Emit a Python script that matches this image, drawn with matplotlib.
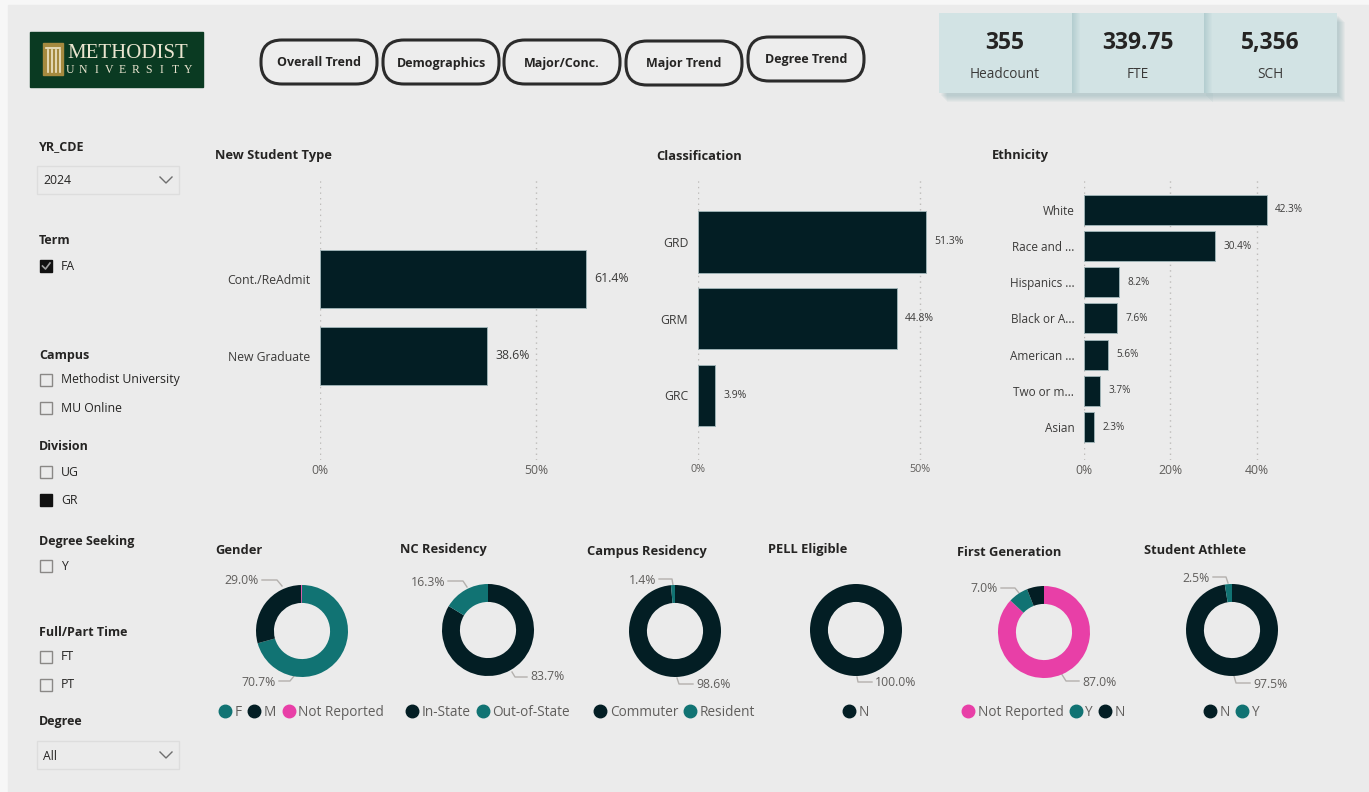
import numpy as np
import matplotlib.pyplot as plt
from matplotlib.patches import Rectangle, FancyBboxPatch
from matplotlib.lines import Line2D

plt.rcParams['font.family'] = ['Open Sans', 'DejaVu Sans']

# ---- data ----
kpi_values = ['355', '339.75', '5,356']
kpi_names = ['Headcount', 'FTE', 'SCH']
buttons = ['Overall Trend', 'Demographics', 'Major/Conc.', 'Major Trend', 'Degree Trend']

student_type = ['Cont./ReAdmit', 'New Graduate']
student_type_pct = [61.4, 38.6]

classification = ['GRD', 'GRM', 'GRC']
classification_pct = [51.3, 44.8, 3.9]

ethnicity = ['White', 'Race and ...', 'Hispanics ...', 'Black or A...', 'American ...', 'Two or m...', 'Asian']
ethnicity_pct = [42.3, 30.4, 8.2, 7.6, 5.6, 3.7, 2.3]

gender = ['F', 'M', 'Not Reported']
gender_pct = [70.7, 29.0, 0.3]
nc_res = ['In-State', 'Out-of-State']
nc_res_pct = [83.7, 16.3]
campus_res = ['Commuter', 'Resident']
campus_res_pct = [98.6, 1.4]
pell = ['N']
pell_pct = [100.0]
first_gen = ['Not Reported', 'Y', 'N']
first_gen_pct = [87.0, 7.0, 6.0]
athlete = ['N', 'Y']
athlete_pct = [97.5, 2.5]

# ---- style ----
BG = '#EBEBEB'
DARK = '#031E24'
TEAL = '#117373'
PINK = '#E83FA7'
TXT = '#252423'
GTXT = '#605E5C'
colour_of = {'F': TEAL, 'M': DARK, 'Not Reported': PINK, 'In-State': DARK,
             'Out-of-State': TEAL, 'Commuter': DARK, 'Resident': TEAL,
             'N': DARK, 'Y': TEAL}

W, H = 1369, 792
fig = plt.figure(figsize=(W / 100, H / 100), dpi=100, facecolor='#F7F7F7')


def px_axes(x0, y0, w, h):
    return fig.add_axes([x0 / W, 1 - (y0 + h) / H, w / W, h / H])


# overlay in pixel coords (drawn first, so it stays behind the charts)
ov = px_axes(0, 0, W, H)
ov.set_xlim(0, W)
ov.set_ylim(H, 0)
ov.axis('off')
ov.add_patch(Rectangle((8, 5), W, H, color=BG, zorder=0))

# logo
ov.add_patch(Rectangle((30, 32), 173, 55, color='#0A3A22', zorder=1))
ov.add_patch(Rectangle((43, 43), 20, 32, color='#A58A3F', zorder=2))
for lx in [48, 52, 56, 60]:
    ov.plot([lx, lx], [50, 72], color='#EFE6C8', lw=1.2, zorder=3)
ov.plot([46, 60], [48, 48], color='#EFE6C8', lw=1.2, zorder=3)
ov.text(67, 53, 'METHODIST', family='Liberation Serif', fontsize=15,
        color='#EAE5D0', va='center', ha='left', zorder=3)
for ch, lx in zip('UNIVERSITY', np.linspace(70, 188, 10)):
    ov.text(lx, 70, ch, family='Liberation Serif', fontsize=8.5,
            color='#EAE5D0', va='center', ha='center', zorder=3)

# nav buttons
btn_x = [259, 381, 502, 624, 746]
btn_y = [40, 40, 40, 41, 37]
for name, bx, by in zip(buttons, btn_x, btn_y):
    ov.add_patch(FancyBboxPatch((bx + 2, by), 116, 44,
                                boxstyle='round,pad=0,rounding_size=21',
                                facecolor='#EDEDED', edgecolor='#2B2B2B',
                                lw=2.2, zorder=2))
    ov.text(bx + 60, by + 23, name, fontsize=9, fontweight='bold',
            color=TXT, ha='center', va='center', zorder=3)

# KPI cards
card_x = [939, 1072, 1204]
for k in range(7):
    for cx in card_x:
        ov.add_patch(Rectangle((cx + 2 + k, 16 + k), 133, 80,
                               color='#7EA7AB', alpha=0.07, lw=0, zorder=1))
for cx, val, name in zip(card_x, kpi_values, kpi_names):
    ov.add_patch(Rectangle((cx, 13), 133, 80, color='#D2E3E4', lw=0, zorder=2))
    ov.text(cx + 66, 43, val, fontsize=16.5, fontweight='bold', color=TXT,
            ha='center', va='center', zorder=3)
    ov.text(cx + 66, 74, name, fontsize=9.8, color='#3B3A39',
            ha='center', va='center', zorder=3)
for cx in card_x[1:]:
    for k in range(8):
        ov.add_patch(Rectangle((cx + k, 13), 1, 80, color='#7EA7AB',
                               alpha=0.35 * (1 - k / 8), lw=0, zorder=3))

# slicers
def header(y, t):
    ov.text(39, y, t, fontsize=9, fontweight='bold', color=TXT, va='center')


def checkbox(y, t, filled=False, tick=False):
    ov.add_patch(Rectangle((40, y - 6), 12, 12, facecolor='#111111' if filled else 'none',
                           edgecolor='#111111' if filled else '#8A8886', lw=1, zorder=2))
    if tick:
        ov.plot([42.5, 45.5, 50], [y, y + 3, y - 3], color='#A0A0A0', lw=1.2, zorder=3)
    ov.text(61, y, t, fontsize=8.8, color=TXT, va='center')


def dropdown(y0, t):
    ov.add_patch(Rectangle((37, y0), 142, 28, facecolor='none',
                           edgecolor='#DDDDDD', lw=1, zorder=2))
    ov.text(43, y0 + 15, t, fontsize=8.8, color=TXT, va='center')
    ov.plot([160, 166, 172], [y0 + 11, y0 + 17, y0 + 11], color='#6E6E6E', lw=1)


header(147, 'YR_CDE')
dropdown(166, '2024')
header(241, 'Term')
checkbox(266, 'FA', filled=True, tick=True)
header(355, 'Campus')
checkbox(380, 'Methodist University')
checkbox(408, 'MU Online')
header(447, 'Division')
checkbox(472, 'UG')
checkbox(500, 'GR', filled=True)
header(542, 'Degree Seeking')
checkbox(566, 'Y')
header(632, 'Full/Part Time')
checkbox(657, 'FT')
checkbox(685, 'PT')
header(722, 'Degree')
dropdown(741, 'All')

# ---- bar charts ----
def bar_chart(title, tx, x0, w, cats, vals, xmax, ticks, bar_h, top, bot,
              cat_fs, val_fs, tick_fs):
    ov.text(tx, 156, title, fontsize=9.3, fontweight='bold', color=TXT, va='center')
    ax = px_axes(x0, 178, w, 282)
    ax.set_facecolor('none')
    y = np.arange(len(cats))
    ax.barh(y, vals, height=bar_h, color=DARK, edgecolor='#9DB1B4', linewidth=0.7, zorder=2)
    ax.set_xlim(0, xmax)
    ax.set_ylim(len(cats) - 1 + bot, -top)
    ax.set_yticks(y, cats)
    ax.set_xticks(ticks, [f'{t}%' for t in ticks])
    ax.grid(axis='x', linestyle=(0, (1, 3)), color='#BDBBB9', lw=1)
    ax.set_axisbelow(True)
    for s in ax.spines.values():
        s.set_visible(False)
    ax.tick_params(axis='y', length=0, pad=7, labelsize=cat_fs, labelcolor='#3B3A39')
    ax.tick_params(axis='x', length=0, pad=3, labelsize=tick_fs, labelcolor=GTXT)
    for i, v in enumerate(vals):
        ax.annotate(f'{v}%', (v, i), xytext=(6, 0), textcoords='offset points',
                    va='center', ha='left', fontsize=val_fs, color='#3B3A39')


bar_chart('New Student Type', 215, 320, 320, student_type, student_type_pct,
          74, [0, 50], 0.75, 1.31, 1.35, 8.8, 8.8, 8.8)
bar_chart('Classification', 656, 698, 282, classification, classification_pct,
          63.5, [0, 50], 0.8, 0.83, 0.84, 8.8, 7.5, 7.8)
bar_chart('Ethnicity', 992, 1084, 216, ethnicity, ethnicity_pct,
          50, [0, 20, 40], 0.83, 0.88, 0.91, 8.5, 7.2, 8.8)

# ---- donuts ----
donuts = [
    ('Gender', 215, 550, gender, gender_pct, (302, 631),
     [(1, 259, 580, 'right', [(262, 580), (277, 580), (282, 586)]),
      (0, 276, 682, 'right', [(279, 681), (290, 681), (294, 676)])]),
    ('NC Residency', 400, 550, nc_res, nc_res_pct, (488, 630),
     [(1, 445, 582, 'right', [(448, 581), (463, 581), (467, 587)]),
      (0, 530, 677, 'left', [(512, 672), (515, 677), (527, 677)])]),
    ('Campus Residency', 587, 552, campus_res, campus_res_pct, (675, 631),
     [(1, 656, 580, 'right', [(659, 579), (672, 579), (673, 585)]),
      (0, 696, 685, 'left', [(677, 678), (679, 684), (693, 684)])]),
    ('PELL Eligible', 768, 550, pell, pell_pct, (856, 630),
     [(0, 875, 683, 'left', [(857, 677), (858, 682), (872, 682)])]),
    ('First Generation', 957, 552, first_gen, first_gen_pct, (1044, 632),
     [(1, 998, 589, 'right', [(1001, 588), (1015, 588), (1019, 593)]),
      (0, 1082, 682, 'left', [(1061, 673), (1066, 681), (1079, 681)])]),
    ('Student Athlete', 1144, 550, athlete, athlete_pct, (1232, 630),
     [(1, 1210, 578, 'right', [(1213, 577), (1226, 577), (1228, 583)]),
      (0, 1253, 684, 'left', [(1234, 676), (1236, 683), (1250, 683)])]),
]
R = 46
for title, tx, ty, cats, vals, (cx, cy), labels in donuts:
    ov.text(tx, ty, title, fontsize=9.3, fontweight='bold', color=TXT, va='center')
    ax = px_axes(cx - R, cy - R, 2 * R, 2 * R)
    ax.pie(vals, colors=[colour_of[c] for c in cats], startangle=90, counterclock=False,
           radius=1, wedgeprops=dict(width=0.39, edgecolor='none'))
    ax.set_xlim(-1, 1)
    ax.set_ylim(-1, 1)
    for idx, lx, ly, ha, pts in labels:
        xs, ys = zip(*pts)
        ov.plot(xs, ys, color='#B3B0AD', lw=1)
        ov.text(lx, ly, f'{vals[idx]:.1f}%', fontsize=8.8, color=GTXT, ha=ha, va='center')
    handles = [Line2D([], [], marker='o', ls='none', ms=9, color=colour_of[c]) for c in cats]
    ax.legend(handles, cats, loc='center', bbox_to_anchor=(cx / W, 1 - 712 / H),
              bbox_transform=fig.transFigure, ncol=len(cats), frameon=False,
              fontsize=9.8, labelcolor=GTXT, handlelength=0.8, handletextpad=0.3,
              columnspacing=0.5, borderpad=0)

fig.savefig('out.png', dpi=100, facecolor=fig.get_facecolor())
